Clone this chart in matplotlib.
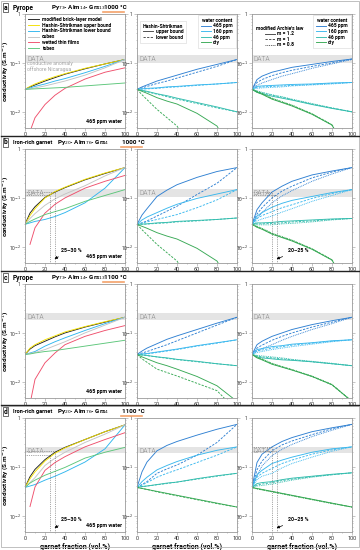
import numpy as np
import matplotlib
matplotlib.use('Agg')
import matplotlib.pyplot as plt
from matplotlib.lines import Line2D

plt.rcParams['font.family'] = ['Roboto', 'DejaVu Sans']

# garnet fraction (vol.%) where curves were read, values are log10(conductivity S/m)
frac = [0, 5, 10, 20, 30, 40, 60, 80, 100]
nan = np.nan

# ---- a : pyrope 1000 C ----
a_brick = [-1.54, -1.49, -1.45, -1.37, -1.30, -1.23, -1.12, -1.02, -0.93]
a_hs_up = [-1.54, -1.48, -1.43, -1.35, -1.28, -1.22, -1.11, -1.02, -0.93]
a_hs_low = [-1.54, -1.51, -1.48, -1.43, -1.37, -1.32, -1.20, -1.07, -0.93]
a_cubes = [-1.54, -1.53, -1.51, -1.47, -1.42, -1.37, -1.25, -1.10, -0.93]
a_films = [nan, -2.40, -2.12, -1.85, -1.66, -1.52, -1.33, -1.19, -1.10]
a_tubes = [-1.54, -1.535, -1.53, -1.52, -1.51, -1.50, -1.47, -1.44, -1.41]
a465_up = [-1.54, -1.49, -1.45, -1.37, -1.31, -1.25, -1.13, -1.03, -0.93]
a465_lo = [-1.54, -1.51, -1.48, -1.42, -1.37, -1.31, -1.19, -1.07, -0.93]
a160_up = [-1.54, -1.53, -1.52, -1.51, -1.49, -1.48, -1.45, -1.43, -1.40]
a160_lo = [-1.54, -1.535, -1.53, -1.52, -1.50, -1.49, -1.46, -1.43, -1.40]
a46_up = [-1.54, -1.56, -1.58, -1.63, -1.67, -1.72, -1.81, -1.90, -2.00]
a46_lo = [-1.54, -1.565, -1.59, -1.64, -1.69, -1.74, -1.83, -1.92, -2.00]
adry_up = [-1.54, -1.58, -1.62, -1.71, -1.78, -1.84, -2.03, -2.29, -3.0]
adry_lo = [-1.54, -1.65, -1.75, -1.95, -2.12, -2.29, -2.9, nan, nan]
a465_m12 = [-1.54, -1.34, -1.27, -1.19, -1.14, -1.09, -1.03, -0.97, -0.92]
a465_m10 = [-1.54, -1.40, -1.34, -1.26, -1.20, -1.15, -1.07, -1.00, -0.92]
a465_m08 = [-1.54, -1.46, -1.41, -1.34, -1.27, -1.22, -1.11, -1.02, -0.93]
a160_m12 = [-1.54, -1.48, -1.47, -1.46, -1.45, -1.44, -1.43, -1.41, -1.40]
a160_m10 = [-1.54, -1.50, -1.49, -1.48, -1.47, -1.46, -1.44, -1.42, -1.40]
a160_m08 = [-1.54, -1.52, -1.51, -1.50, -1.49, -1.47, -1.45, -1.43, -1.40]
a46_m12 = [-1.54, -1.60, -1.63, -1.68, -1.72, -1.76, -1.85, -1.93, -2.00]
a46_m10 = [-1.54, -1.58, -1.61, -1.66, -1.70, -1.75, -1.84, -1.92, -2.00]
a46_m08 = [-1.54, -1.57, -1.60, -1.65, -1.69, -1.74, -1.83, -1.92, -2.00]
adry_m12 = [-1.54, -1.60, -1.64, -1.74, -1.81, -1.88, -2.05, -2.27, -3.0]
adry_m10 = [-1.54, -1.59, -1.63, -1.73, -1.80, -1.87, -2.04, -2.27, -3.0]
adry_m08 = [-1.54, -1.58, -1.62, -1.72, -1.79, -1.86, -2.04, -2.26, -3.0]

# ---- b : iron-rich garnet 1000 C ----
b_brick = [-1.54, -1.31, -1.18, -0.99, -0.88, -0.79, -0.63, -0.50, -0.38]
b_hs_up = [-1.54, -1.36, -1.22, -1.00, -0.87, -0.78, -0.62, -0.49, -0.38]
b_hs_low = [-1.54, -1.51, -1.48, -1.44, -1.38, -1.30, -1.10, -0.80, -0.38]
b_cubes = [-1.54, -1.42, -1.32, -1.15, -1.02, -0.92, -0.75, -0.55, -0.38]
b_films = [nan, -1.95, -1.61, -1.31, -1.13, -1.00, -0.80, -0.66, -0.54]
b_tubes = [-1.54, -1.48, -1.43, -1.34, -1.28, -1.22, -1.07, -0.95, -0.83]
b465_up = [-1.54, -1.35, -1.22, -0.97, -0.84, -0.73, -0.58, -0.46, -0.38]
b465_lo = [-1.54, -1.51, -1.47, -1.37, -1.27, -1.17, -0.93, -0.70, -0.38]
b160_up = [-1.54, -1.45, -1.39, -1.30, -1.21, -1.13, -1.01, -0.92, -0.83]
b160_lo = [-1.54, -1.51, -1.49, -1.44, -1.39, -1.34, -1.20, -1.04, -0.83]
b46_up = [-1.54, -1.535, -1.53, -1.51, -1.50, -1.48, -1.46, -1.44, -1.41]
b46_lo = [-1.54, -1.537, -1.534, -1.52, -1.51, -1.49, -1.47, -1.44, -1.41]
bdry_up = [-1.54, -1.58, -1.62, -1.71, -1.78, -1.84, -2.03, -2.29, -3.0]
bdry_lo = [-1.54, -1.65, -1.75, -1.95, -2.12, -2.29, -2.9, nan, nan]
b465_m12 = [-1.54, -1.24, -1.10, -0.88, -0.76, -0.66, -0.53, -0.45, -0.38]
b465_m10 = [-1.54, -1.33, -1.20, -1.00, -0.86, -0.76, -0.59, -0.47, -0.38]
b465_m08 = [-1.54, -1.42, -1.30, -1.10, -0.96, -0.85, -0.66, -0.51, -0.38]
b160_m12 = [-1.54, -1.37, -1.30, -1.19, -1.11, -1.05, -0.97, -0.89, -0.83]
b160_m10 = [-1.54, -1.42, -1.36, -1.28, -1.20, -1.14, -1.01, -0.91, -0.83]
b160_m08 = [-1.54, -1.47, -1.43, -1.37, -1.29, -1.22, -1.07, -0.95, -0.83]
b46_m12 = [-1.54, -1.51, -1.51, -1.50, -1.48, -1.47, -1.45, -1.43, -1.42]
b46_m10 = [-1.54, -1.53, -1.53, -1.52, -1.51, -1.49, -1.47, -1.44, -1.42]
b46_m08 = [-1.54, -1.55, -1.55, -1.55, -1.53, -1.52, -1.49, -1.45, -1.42]
bdry_m12 = [-1.54, -1.60, -1.64, -1.74, -1.81, -1.88, -2.05, -2.27, -3.0]
bdry_m10 = [-1.54, -1.59, -1.63, -1.73, -1.80, -1.87, -2.04, -2.27, -3.0]
bdry_m08 = [-1.54, -1.58, -1.62, -1.72, -1.79, -1.86, -2.04, -2.26, -3.0]

# ---- c : pyrope 1100 C ----
c_brick = [-1.44, -1.33, -1.26, -1.17, -1.08, -1.00, -0.88, -0.78, -0.68]
c_hs_up = [-1.44, -1.31, -1.24, -1.14, -1.06, -0.98, -0.87, -0.77, -0.68]
c_hs_low = [-1.44, -1.41, -1.38, -1.27, -1.18, -1.10, -0.95, -0.81, -0.68]
c_cubes = [-1.44, -1.42, -1.40, -1.34, -1.26, -1.18, -1.00, -0.84, -0.68]
c_films = [nan, -2.45, -1.95, -1.61, -1.41, -1.24, -1.07, -0.95, -0.85]
c_tubes = [-1.44, -1.43, -1.41, -1.38, -1.36, -1.33, -1.27, -1.21, -1.15]
c465_up = [-1.44, -1.37, -1.31, -1.22, -1.13, -1.06, -0.93, -0.80, -0.68]
c465_lo = [-1.44, -1.41, -1.38, -1.31, -1.24, -1.16, -1.00, -0.84, -0.68]
c160_up = [-1.44, -1.43, -1.42, -1.39, -1.36, -1.33, -1.26, -1.20, -1.14]
c160_lo = [-1.44, -1.435, -1.43, -1.40, -1.37, -1.34, -1.27, -1.21, -1.14]
c46_up = [-1.44, -1.45, -1.46, -1.49, -1.51, -1.54, -1.58, -1.63, -1.67]
c46_lo = [-1.44, -1.452, -1.465, -1.49, -1.52, -1.545, -1.59, -1.63, -1.67]
cdry_up = [-1.44, -1.49, -1.53, -1.61, -1.67, -1.74, -1.89, -2.08, -2.40]
cdry_lo = [-1.44, -1.53, -1.60, -1.74, -1.81, -1.88, -2.03, -2.18, -2.60]
c465_m12 = [-1.44, -1.24, -1.17, -1.07, -1.00, -0.93, -0.83, -0.75, -0.68]
c465_m10 = [-1.44, -1.31, -1.25, -1.15, -1.07, -1.00, -0.88, -0.78, -0.68]
c465_m08 = [-1.44, -1.37, -1.32, -1.24, -1.15, -1.07, -0.93, -0.81, -0.68]
c160_m12 = [-1.44, -1.34, -1.32, -1.28, -1.26, -1.23, -1.20, -1.16, -1.14]
c160_m10 = [-1.44, -1.37, -1.35, -1.31, -1.28, -1.25, -1.21, -1.17, -1.14]
c160_m08 = [-1.44, -1.40, -1.38, -1.34, -1.31, -1.28, -1.23, -1.18, -1.14]
c46_m12 = [-1.44, -1.49, -1.51, -1.53, -1.55, -1.56, -1.59, -1.63, -1.67]
c46_m10 = [-1.44, -1.47, -1.49, -1.51, -1.53, -1.55, -1.59, -1.63, -1.67]
c46_m08 = [-1.44, -1.46, -1.47, -1.49, -1.51, -1.54, -1.58, -1.62, -1.67]
cdry_m12 = [-1.44, -1.51, -1.55, -1.64, -1.70, -1.76, -1.89, -2.06, -2.40]
cdry_m10 = [-1.44, -1.50, -1.54, -1.63, -1.69, -1.75, -1.89, -2.06, -2.40]
cdry_m08 = [-1.44, -1.49, -1.53, -1.62, -1.69, -1.75, -1.88, -2.05, -2.40]

# ---- d : iron-rich garnet 1100 C ----
d_brick = [-1.42, -1.20, -1.05, -0.85, -0.70, -0.60, -0.44, -0.28, -0.14]
d_hs_up = [-1.42, -1.24, -1.10, -0.88, -0.72, -0.61, -0.44, -0.28, -0.14]
d_hs_low = [-1.42, -1.39, -1.36, -1.27, -1.19, -1.10, -0.90, -0.63, -0.14]
d_cubes = [-1.42, -1.32, -1.22, -0.97, -0.82, -0.70, -0.50, -0.33, -0.14]
d_films = [nan, -1.81, -1.41, -1.07, -0.91, -0.79, -0.59, -0.44, -0.30]
d_tubes = [-1.42, -1.33, -1.27, -1.17, -1.09, -1.01, -0.82, -0.70, -0.60]
d465_up = [-1.42, -1.10, -0.90, -0.67, -0.56, -0.48, -0.35, -0.23, -0.13]
d465_lo = [-1.42, -1.36, -1.30, -1.13, -1.04, -0.96, -0.76, -0.50, -0.13]
d160_up = [-1.42, -1.30, -1.21, -1.06, -0.97, -0.89, -0.76, -0.66, -0.59]
d160_lo = [-1.42, -1.37, -1.32, -1.21, -1.13, -1.06, -0.91, -0.76, -0.59]
d46_up = [-1.42, -1.40, -1.39, -1.36, -1.33, -1.31, -1.24, -1.18, -1.13]
d46_lo = [-1.42, -1.405, -1.39, -1.365, -1.34, -1.31, -1.25, -1.19, -1.13]
ddry_up = [-1.42, -1.44, -1.46, -1.50, -1.54, -1.58, -1.66, -1.74, -1.82]
ddry_lo = [-1.42, -1.44, -1.46, -1.51, -1.55, -1.59, -1.67, -1.75, -1.82]
d465_m12 = [-1.42, -0.91, -0.74, -0.59, -0.48, -0.40, -0.28, -0.20, -0.13]
d465_m10 = [-1.42, -1.06, -0.88, -0.67, -0.55, -0.47, -0.34, -0.22, -0.13]
d465_m08 = [-1.42, -1.18, -0.98, -0.77, -0.64, -0.54, -0.38, -0.25, -0.13]
d160_m12 = [-1.42, -1.16, -1.07, -0.93, -0.86, -0.80, -0.70, -0.63, -0.59]
d160_m10 = [-1.42, -1.21, -1.13, -1.03, -0.93, -0.86, -0.74, -0.65, -0.59]
d160_m08 = [-1.42, -1.26, -1.19, -1.13, -1.02, -0.93, -0.80, -0.68, -0.59]
d46_m12 = [-1.42, -1.34, -1.32, -1.30, -1.26, -1.23, -1.19, -1.15, -1.12]
d46_m10 = [-1.42, -1.37, -1.35, -1.32, -1.28, -1.25, -1.20, -1.16, -1.12]
d46_m08 = [-1.42, -1.39, -1.38, -1.35, -1.31, -1.27, -1.21, -1.16, -1.12]
ddry_m12 = [-1.42, -1.44, -1.46, -1.50, -1.54, -1.58, -1.66, -1.74, -1.82]
ddry_m10 = [-1.42, -1.445, -1.465, -1.505, -1.545, -1.585, -1.665, -1.745, -1.82]
ddry_m08 = [-1.42, -1.45, -1.47, -1.51, -1.55, -1.59, -1.67, -1.75, -1.82]

# DATA band (log10) per panel and the 25-30 % / 20-25 % picks
data_band = {'a': (-1.00, -0.83), 'b': (-0.99, -0.82), 'c': (-0.73, -0.59), 'd': (-0.72, -0.59)}
pick_left_x = [25, 30]
pick_left_y = {'b': [-0.93, -0.88], 'd': [-0.76, -0.67]}
pick_right_x = [20, 25]
pick_right_y = {'b': [-0.88, -0.93], 'd': [-0.59, -0.67]}

panel_ids = ['a', 'b', 'c', 'd']
panel_names = ['Pyrope', 'Iron-rich garnet', 'Pyrope', 'Iron-rich garnet']
panel_comp = ['Py$_{73}$- Alm$_{14}$- Grs$_{13}$', 'Py$_{20}$- Alm$_{76}$- Grs$_{4}$',
              'Py$_{73}$- Alm$_{14}$- Grs$_{13}$', 'Py$_{20}$- Alm$_{76}$- Grs$_{4}$']
panel_temp = ['1000 °C', '1000 °C', '1100 °C', '1100 °C']

model_labels = ['modified brick-layer model', 'Hashin-Shtrikman upper bound',
                'Hashin-Shtrikman lower bound', 'cubes', 'wetted thin films', 'tubes']
model_colors = ['#1e1e1e', '#f3e000', '#2fb6ee', '#c4c4c4', '#ef4f6c', '#5cc67a']
water_labels = ['465 ppm', '160 ppm', '46 ppm', 'dry']
water_colors = ['#2f80d2', '#39b8ee', '#33bdae', '#38a955']

left_sets = {p: [globals()[p + s] for s in ['_brick', '_hs_up', '_hs_low', '_cubes', '_films', '_tubes']]
             for p in panel_ids}
mid_sets = {p: [(globals()[p + w + '_up'], globals()[p + w + '_lo']) for w in ['465', '160', '46', 'dry']]
            for p in panel_ids}
right_sets = {p: [(globals()[p + w + '_m12'], globals()[p + w + '_m10'], globals()[p + w + '_m08'])
                  for w in ['465', '160', '46', 'dry']] for p in panel_ids}

W, H = 360, 550
fig = plt.figure(figsize=(3.6, 5.5), dpi=100)


def fx(px):
    return px / W


def fy(py):
    return 1 - py / H


col_left = [25, 137, 252]
col_w = 100
row_top = [14, 149, 284, 418]
row_h = 114
grey = '#9a9a9a'
lw = 0.65
small = {'weight': 'bold', 'size': 3.6}


def style_axes(ax):
    ax.set_yscale('log')
    ax.set_xlim(0, 100)
    ax.set_ylim(10 ** -2.33, 1)
    ax.set_yticks([0.01, 0.1, 1])
    ax.set_yticklabels(['10$^{-2}$', '10$^{-1}$', '1'])
    ax.set_xticks([0, 20, 40, 60, 80, 100])
    ax.set_xticks([10, 30, 50, 70, 90], minor=True)
    for s in ax.spines.values():
        s.set_color(grey)
        s.set_linewidth(0.6)
    ax.tick_params(which='both', direction='out', right=True, color=grey, width=0.4, labelsize=4.0,
                   pad=1, labelcolor='#333333')
    ax.tick_params(which='major', length=2)
    ax.tick_params(which='minor', length=1)
    ax.tick_params(axis='y', labelsize=3.5)


def plot_log(ax, vals, **kw):
    ax.plot(frac, 10 ** np.array(vals, dtype=float), lw=lw, **kw)


def draw_band(ax, p, with_note=False):
    lo, hi = data_band[p]
    ax.axhspan(10 ** lo, 10 ** hi, color='#e4e4e4', lw=0, zorder=0)
    ax.text(2, 10 ** (hi - 0.02), 'DATA', color='#a5a5a5', fontsize=4.8, va='top', ha='left')
    if with_note:
        ax.text(2, 10 ** (lo + 0.03), 'conductive anomaly\noffshore Nicaragua', color='#a5a5a5',
                fontsize=3.7, va='top', ha='left', linespacing=1.0)


def draw_pick(ax, xs, ys, text):
    for x, y in zip(xs, ys):
        ax.plot([x, x], [10 ** -2.33, 10 ** y], ls=':', color='#555555', lw=0.5)
        ax.plot([0, x], [10 ** y, 10 ** y], ls=':', color='#555555', lw=0.5)
    ax.annotate(text, xy=(xs[0] + 2, 10 ** -2.27), xytext=(36, 10 ** -2.07), fontsize=3.8,
                fontweight='bold', va='center',
                arrowprops=dict(arrowstyle='-|>', color='black', lw=0.5, mutation_scale=4))


def small_legend(ax, handles, labels, title, loc, anchor, frame):
    leg = ax.legend(handles, labels, title=title, loc=loc, bbox_to_anchor=anchor, frameon=frame,
                    handlelength=2.0, labelspacing=0.1, borderpad=0.3, handletextpad=0.5,
                    prop=small, title_fontproperties=small)
    if frame:
        leg.get_frame().set_edgecolor('#cccccc')
        leg.get_frame().set_linewidth(0.4)
        leg.get_frame().set_boxstyle('square')
    return leg


for r, p in enumerate(panel_ids):
    top = row_top[r]
    hy = top - 6.5
    bottom_px = top + row_h + (15 if r == 3 else 8)
    frame = plt.Rectangle((fx(1), fy(bottom_px)), fx(358), (bottom_px - (top - 13)) / H,
                          transform=fig.transFigure, fill=False, ec='#b5b5b5', lw=0.6)
    fig.add_artist(frame)
    if r > 0:
        fig.add_artist(Line2D([fx(1), fx(359)], [fy(top - 13), fy(top - 13)], color='#222222', lw=1.0))
    fig.text(fx(3.5), fy(hy), p, fontsize=4.8, fontweight='bold', va='center', ha='left',
             bbox=dict(boxstyle='square,pad=0.12', fc='white', ec='#333333', lw=0.5))
    fig.text(fx(13), fy(hy), panel_names[r], fontsize=4.8 if r % 2 == 0 else 4.1,
             fontweight='bold', va='center')
    fig.text(fx(51 if r % 2 == 0 else 57), fy(hy), panel_comp[r], fontsize=4.5, fontweight='bold',
             va='center')
    tx = 104 if r % 2 == 0 else 122
    fig.text(fx(tx), fy(hy), panel_temp[r], fontsize=4.6, fontweight='bold', va='center')
    fig.add_artist(Line2D([fx(tx - 1), fx(tx + 20)], [fy(top - 2), fy(top - 2)], color='#f4a26b', lw=1.2))

    axes = [fig.add_axes([fx(col_left[c]), fy(top + row_h), fx(col_w), row_h / H]) for c in range(3)]
    for ax in axes:
        style_axes(ax)
    axL, axM, axR = axes

    # left: mixing models at 465 ppm water
    draw_band(axL, p, with_note=(p == 'a'))
    for vals, col, lab in zip(left_sets[p], model_colors, model_labels):
        plot_log(axL, vals, color=col, label=lab)
    axL.text(97, 10 ** -2.25, '465 ppm water', fontsize=3.9, fontweight='bold', ha='right', va='bottom')
    axL.set_ylabel('conductivity (S.m$^{-1}$)', fontsize=4.6, fontweight='bold')
    axL.yaxis.set_label_coords(-0.15, 0.5)

    # middle: Hashin-Shtrikman bounds
    draw_band(axM, p)
    for (up, lo), col in zip(mid_sets[p], water_colors):
        plot_log(axM, up, color=col)
        plot_log(axM, lo, color=col, ls=(0, (2.5, 1.5)))

    # right: modified Archie's law
    draw_band(axR, p)
    for (m12, m10, m08), col in zip(right_sets[p], water_colors):
        plot_log(axR, m12, color=col)
        plot_log(axR, m10, color=col, ls=(0, (2.5, 1.5)))
        plot_log(axR, m08, color=col, ls=(0, (1, 1)))

    if p in pick_left_y:
        draw_pick(axL, pick_left_x, pick_left_y[p], '25–30 %')
        draw_pick(axR, pick_right_x, pick_right_y[p], '20–25 %')

    if r == 0:
        axL.legend(loc='upper left', frameon=False, handlelength=2.2, labelspacing=0.15,
                   borderaxespad=0.2, handletextpad=0.6, prop=small)
        hs = [Line2D([], [], color='#444444', lw=lw), Line2D([], [], color='#444444', lw=lw, ls=(0, (2.5, 1.5)))]
        l1 = small_legend(axM, hs, ['upper bound', 'lower bound'], 'Hashin-Shtrikman', 'upper left',
                          (0.02, 0.95), True)
        axM.add_artist(l1)
        wh = [Line2D([], [], color=c, lw=lw) for c in water_colors]
        small_legend(axM, wh, water_labels, 'water content', 'upper right', (1.0, 1.0), True)
        ar = [Line2D([], [], color='#444444', lw=lw), Line2D([], [], color='#444444', lw=lw, ls=(0, (2.5, 1.5))),
              Line2D([], [], color='#444444', lw=lw, ls=(0, (1, 1)))]
        l3 = small_legend(axR, ar, ['m = 1.2', 'm = 1', 'm = 0.8'], "modified Archie's law", 'upper left',
                          (0.0, 0.93), False)
        axR.add_artist(l3)
        small_legend(axR, wh, water_labels, 'water content', 'upper right', (1.0, 1.0), True)

    if r == 3:
        for ax in axes:
            ax.set_xlabel('garnet fraction (vol.%)', fontsize=5.0, fontweight='bold', labelpad=1)

fig.savefig('out.png', dpi=100)
